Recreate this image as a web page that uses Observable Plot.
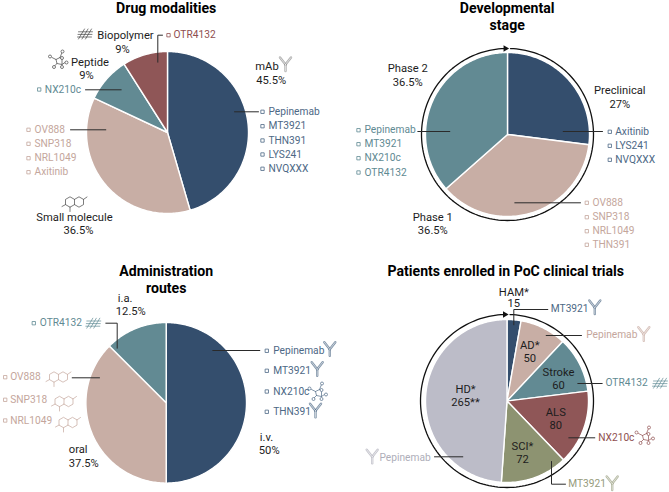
<!DOCTYPE html>
<html><head><meta charset="utf-8">
<script src="https://cdn.jsdelivr.net/npm/d3@7"></script>
<script src="https://cdn.jsdelivr.net/npm/@observablehq/plot@0.6"></script>
<style>html,body{margin:0;padding:0;background:#fff}svg{display:block}</style>
</head><body><div id="chart"></div>
<script>
// ---------- data ----------
const modalityNames = ["mAb", "Small molecule", "Peptide", "Biopolymer"];
const modalityShares = [45.5, 36.5, 9, 9];
const stageNames = ["Preclinical", "Phase 1", "Phase 2"];
const stageShares = [27, 36.5, 36.5];
const routeNames = ["i.v.", "oral", "i.a."];
const routeShares = [50, 37.5, 12.5];
const trialNames = ["HAM*", "AD*", "Stroke", "ALS", "SCI*", "HD*"];
const trialPatients = [15, 50, 60, 80, 72, 265];
const trialLabels = ["15", "50", "60", "80", "72", "265**"];

const mabDrugs = ["Pepinemab", "MT3921", "THN391", "LYS241", "NVQXXX"];
const smallDrugs = ["OV888", "SNP318", "NRL1049", "Axitinib"];
const peptideDrugs = ["NX210c"];
const biopolymerDrugs = ["OTR4132"];
const preclinicalDrugs = ["Axitinib", "LYS241", "NVQXXX"];
const phase1Drugs = ["OV888", "SNP318", "NRL1049", "THN391"];
const phase2Drugs = ["Pepinemab", "MT3921", "NX210c", "OTR4132"];
const ivDrugs = ["Pepinemab", "MT3921", "NX210c", "THN391"];
const oralDrugs = ["OV888", "SNP318", "NRL1049"];
const iaDrugs = ["OTR4132"];

// ---------- colours and layout ----------
const navy = "#344e6d", rose = "#c8aea5", teal = "#628a93", maroon = "#8f5657",
      olive = "#8d9371", lav = "#bcbcc8", ink = "#1d1d1d";
const navyT = "#4d6885", roseT = "#c4a69c", tealT = "#5f8a93", maroonT = "#8f4f4f",
      oliveT = "#969b7c", lavT = "#aeaeb9";

const pies = [
  {values: modalityShares, colors: [navy, rose, teal, maroon], cx: 167, cy: 132, r: 81},
  {values: stageShares, colors: [navy, rose, teal], cx: 507, cy: 134, r: 82, ring: 86},
  {values: routeShares, colors: [navy, rose, teal], cx: 165.7, cy: 402.3, r: 80.3},
  {values: trialPatients, colors: [navy, rose, teal, maroon, olive, lav], cx: 506.5, cy: 400.5, r: 81.5, ring: 86.5}
];

const titles = [
  ["Drug modalities", 165.7, 8],
  ["Developmental", 506.7, 7.5], ["stage", 506.7, 25],
  ["Administration", 165.7, 270.7], ["routes", 165.7, 288],
  ["Patients enrolled in PoC clinical trials", 505.3, 270.5]
];

// [text, x, y, anchor]
const captions = [
  [modalityNames[0], 266.5, 66, "middle"], ["45.5%", 270.7, 80, "middle"],
  [modalityNames[3], 125, 35, "middle"], ["9%", 122, 48.5, "middle"],
  [modalityNames[2], 89.5, 61.7, "middle"], ["9%", 86, 75, "middle"],
  [modalityNames[1], 74, 216.7, "middle"], ["36.5%", 78, 230, "middle"],
  [stageNames[0], 619.3, 90, "middle"], ["27%", 619.3, 104, "middle"],
  [stageNames[2], 407.3, 68, "middle"], ["36.5%", 407.3, 81.7, "middle"],
  [stageNames[1], 432.3, 217, "middle"], ["36.5%", 432.3, 230.3, "middle"],
  [routeNames[2], 117.3, 298, "start"], ["12.5%", 115.3, 311.3, "start"],
  [routeNames[1], 68.3, 449.3, "start"], ["37.5%", 68.3, 462.7, "start"],
  [routeNames[0], 259.3, 437, "start"], ["50%", 258.3, 450, "start"],
  [trialNames[0], 513.3, 291.7, "middle"], [trialLabels[0], 513.3, 303.3, "middle"],
  [trialNames[1], 529.3, 345, "middle"], [trialLabels[1], 529.3, 358, "middle"],
  [trialNames[2], 558, 372, "middle"], [trialLabels[2], 558, 384.5, "middle"],
  [trialNames[3], 555.3, 412, "middle"], [trialLabels[3], 555.3, 424.7, "middle"],
  [trialNames[4], 522, 446, "middle"], [trialLabels[4], 522, 458.7, "middle"],
  [trialNames[5], 465, 389, "middle"], [trialLabels[5], 465, 402, "middle"]
];

// [names, colour, square x, text x, row y's]
const lists = [
  [mabDrugs, navyT, 262, 268, [111.3, 125.7, 140, 154, 168.3]],
  [smallDrugs, roseT, 28, 34, [129.3, 143.3, 157.7, 171.7]],
  [peptideDrugs, tealT, 38.7, 44.3, [89]],
  [biopolymerDrugs, maroonT, 168, 173, [34.7]],
  [preclinicalDrugs, navyT, 609.3, 614.7, [131.3, 145.3, 159.3]],
  [phase1Drugs, roseT, 586.3, 592, [202.3, 216.7, 230.7, 244.3]],
  [phase2Drugs, tealT, 358, 364, [129.7, 143.7, 157.7, 172]],
  [ivDrugs, navyT, 266.3, 272.7, [350.3, 370.3, 391, 411.3]],
  [oralDrugs, roseT, 4.7, 9.7, [376.7, 399.3, 420]],
  [iaDrugs, tealT, 33.3, 39.3, [322.7]]
];

// free labels of the trial pie: [text, colour, x, y]
const trialDrugLabels = [
  [mabDrugs[1], navyT, 550.3, 308.7],
  [mabDrugs[0], roseT, 585.7, 334.7],
  [biopolymerDrugs[0], tealT, 605, 382.7],
  [peptideDrugs[0], maroonT, 597.7, 437.7],
  [mabDrugs[1], oliveT, 567.7, 483],
  [mabDrugs[0], lavT, 379, 457]
];

const leaders = [
  [[234, 111.3], [258, 111.3]],
  [[70, 129.3], [105.3, 129.3]],
  [[85, 89.3], [120.7, 89.3]],
  [[157.3, 61.7], [157.3, 34.7], [162, 34.7]],
  [[417.3, 131], [449.3, 131]],
  [[562.7, 131], [602, 131]],
  [[514.3, 202.3], [580, 202.3]],
  [[105.3, 322.7], [116.7, 322.7], [116.7, 347.7]],
  [[71.7, 377.3], [99, 377.3]],
  [[212.3, 350], [259.3, 350]],
  [[513.3, 324.3], [513.3, 309], [547.3, 309]],
  [[545.7, 335], [581, 335]],
  [[577.3, 383], [601.7, 383]],
  [[568.3, 437.3], [594.3, 437.3]],
  [[551, 461], [551, 483.7], [565, 483.7]],
  [[434, 456.3], [462.3, 456.3]]
];

// small pictograms as polylines in a unit box around their centre
const iconLines = {
  y: [[[0, 7.5], [0, 1]], [[0, 1], [-5.5, -6]], [[0, 1], [5.5, -6]]],
  hash: [[[-7, 5], [-1, -5]], [[-3.5, 5], [2.5, -5]], [[0, 5], [6, -5]],
         [[-7, -2.2], [7, -2.2]], [[-7.5, 0.4], [6.5, 0.4]], [[-8, 3], [6, 3]]],
  hex: [[[0, -2.6], [-4.5, -5.2], [-9, -2.6], [-9, 2.6], [-4.5, 5.2], [0, 2.6], [0, -2.6], [4.5, -5.2], [9, -2.6], [9, 2.6], [4.5, 5.2], [0, 2.6]],
        [[9, -2.6], [12.5, -5]], [[-9, 2.6], [-12.5, 4.5]], [[-4.5, 5.2], [-4.5, 9.5]]],
  mol: [[[-7, -2], [-3, 0], [1, -2], [3, -7]], [[-3, 0], [-2, 4], [-5, 7]], [[-2, 4], [3, 5], [6, 3]], [[1, -2], [3, 0], [3, 5]]]
};
const molNodes = [[-9, -3], [-5, 7.5], [3.5, -8], [7.5, 3], [3, 7.5], [3, -1.5]];

// [kind, x, y, colour]
const icons = [
  ["y", 285, 63, "#8f8f8f"],
  ["hash", 85, 33.5, "#444"],
  ["mol", 58.5, 59, "#444"],
  ["hex", 74, 201.5, "#444"],
  ["hash", 93.3, 322.7, tealT],
  ["hex", 58, 376.5, roseT], ["hex", 63.5, 401, roseT], ["hex", 67.5, 422, roseT],
  ["y", 329.3, 347.7, navyT], ["y", 316.7, 367.7, navyT],
  ["mol", 318, 391, navyT], ["y", 315, 409.3, navyT],
  ["y", 594.3, 306, navyT], ["y", 643.3, 332.7, roseT],
  ["hash", 660, 382.7, tealT], ["mol", 645, 435, maroonT],
  ["y", 611.7, 482, oliveT], ["y", 371.7, 455.3, lavT]
];

// ---------- helpers ----------
const polar = (p, r, deg) => [p.cx + r * Math.sin(deg * Math.PI / 180), p.cy - r * Math.cos(deg * Math.PI / 180)];
function wedgeMarks(p) {
  const total = d3.sum(p.values);
  let acc = 0;
  return p.values.map((v, i) => {
    const a0 = acc / total * 360; acc += v;
    const a1 = acc / total * 360;
    const pts = [[p.cx, p.cy], ...d3.range(a0, a1, 1).map(a => polar(p, p.r, a)), polar(p, p.r, a1), [p.cx, p.cy]];
    return Plot.line(pts, {x: "0", y: "1", fill: p.colors[i], stroke: "#fff", strokeWidth: 1.4, strokeLinejoin: "round"});
  });
}
function ringMarks(p) {
  if (!p.ring) return [];
  const pts = d3.range(2, 358.5, 2).map(a => polar(p, p.ring, a));
  return [
    Plot.line(pts, {x: "0", y: "1", stroke: "#111", strokeWidth: 1.3}),
    Plot.dot([polar(p, p.ring, 358.6)], {x: "0", y: "1", symbol: "triangle", rotate: 90, r: 2.4, fill: "#111", stroke: "none"})
  ];
}
const textRows = captions.map(([text, x, y, anchor]) => ({text, x, y, anchor}));
const listRows = lists.flatMap(([names, color, sx, tx, ys]) => names.map((text, i) => ({text, color, sx, tx, y: ys[i]})));
const iconPaths = icons.flatMap(([kind, x, y, color], k) =>
  iconLines[kind].flatMap((line, j) => line.map(([dx, dy]) => ({x: x + dx, y: y + dy, id: `${k}-${j}`, color, kind}))));
const iconNodes = icons.filter(d => d[0] === "mol").flatMap(([, x, y, color]) =>
  molNodes.map(([dx, dy]) => ({x: x + dx, y: y + dy, color})));
const leaderPts = leaders.flatMap((l, i) => l.map(([x, y]) => ({x, y, i})));

const font = "Roboto, 'Noto Sans', sans-serif";
const chart = Plot.plot({
  width: 669, height: 492, margin: 0,
  x: {type: "linear", domain: [0, 669], range: [0, 669], axis: null},
  y: {type: "linear", domain: [0, 492], range: [0, 492], axis: null},
  color: {type: "identity"},
  style: {fontFamily: font, background: "#fff"},
  marks: [
    pies.flatMap(wedgeMarks),
    pies.flatMap(ringMarks),
    Plot.line(leaderPts, {x: "x", y: "y", z: "i", stroke: "#2a2a2a", strokeWidth: 1}),
    Plot.line(iconPaths.filter(d => d.kind === "y"), {x: "x", y: "y", z: "id", stroke: "color", strokeWidth: 2.4, strokeOpacity: 0.7}),
    Plot.line(iconPaths.filter(d => d.kind === "y"), {x: "x", y: "y", z: "id", stroke: "#fff", strokeWidth: 0.7, strokeOpacity: 0.8}),
    Plot.line(iconPaths.filter(d => d.kind !== "y"), {x: "x", y: "y", z: "id", stroke: "color", strokeWidth: 0.7}),
    Plot.dot(iconNodes, {x: "x", y: "y", r: 1.5, stroke: "color", fill: "#fff", strokeWidth: 0.7}),
    Plot.dot(listRows, {x: "sx", y: "y", symbol: "square", r: 1.9, stroke: "color", fill: "none", strokeWidth: 0.8}),
    Plot.text(listRows, {x: "tx", y: "y", text: "text", fill: "color", textAnchor: "start", fontSize: 10.2}),
    Plot.text(trialDrugLabels, {x: "2", y: "3", text: "0", fill: "1", textAnchor: "start", fontSize: 10.2}),
    Plot.text(textRows.filter(d => d.anchor === "middle"), {x: "x", y: "y", text: "text", fill: ink, textAnchor: "middle", fontSize: 11.2}),
    Plot.text(textRows.filter(d => d.anchor === "start"), {x: "x", y: "y", text: "text", fill: ink, textAnchor: "start", fontSize: 11.2}),
    Plot.text(titles, {x: "1", y: "2", text: "0", fill: "#000", textAnchor: "middle", fontSize: 14.1, fontWeight: 700})
  ]
});
document.getElementById("chart").append(chart);
</script>
</body></html>
